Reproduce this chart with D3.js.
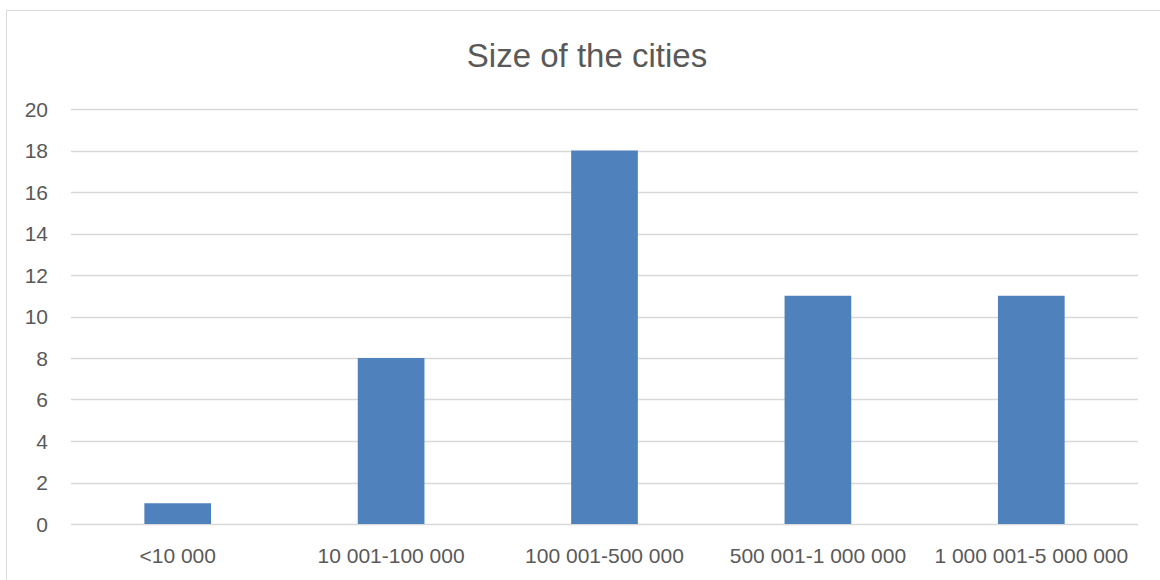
<!DOCTYPE html>
<html>
<head>
<meta charset="utf-8">
<script src="https://cdn.jsdelivr.net/npm/d3@7"></script>
<style>
  body { margin: 0; background: #fff; }
  text { font-family: "Liberation Sans", Arial, sans-serif; fill: #595959; }
</style>
</head>
<body>
<div id="main"></div>
<script>
// chart data
const categories = ["<10 000", "10 001-100 000", "100 001-500 000", "500 001-1 000 000", "1 000 001-5 000 000"];
const counts = [1, 8, 18, 11, 11];
const yTicks = [0, 2, 4, 6, 8, 10, 12, 14, 16, 18, 20];
const title = "Size of the cities";

const ctx = {width: 1160, height: 580,
  left: 71, right: 1138, top: 109, bottom: 524};

let svg = d3.select("#main").append("svg")
  .attr("width", ctx.width)
  .attr("height", ctx.height);

// frame border
svg.append("rect")
  .attr("x", 6.5).attr("y", 10.5)
  .attr("width", 1200).attr("height", 700)
  .attr("fill", "none")
  .attr("stroke", "#d9d9d9");

let x = d3.scaleBand()
  .domain(categories)
  .range([ctx.left, ctx.right])
  .paddingInner(0.6875)
  .paddingOuter(0.34375);

let y = d3.scaleLinear()
  .domain([0, 20])
  .range([ctx.bottom, ctx.top]);

// gridlines
svg.append("g").selectAll("line")
  .data(yTicks)
  .enter().append("line")
  .attr("x1", ctx.left).attr("x2", ctx.right)
  .attr("y1", d => Math.round(y(d)) + 0.5)
  .attr("y2", d => Math.round(y(d)) + 0.5)
  .attr("stroke", "#d9d9d9")
  .attr("stroke-width", 1.3);

// y tick labels
svg.append("g").selectAll("text")
  .data(yTicks)
  .enter().append("text")
  .attr("x", 48)
  .attr("y", d => y(d))
  .attr("dy", "0.36em")
  .attr("text-anchor", "end")
  .style("font-size", "21px")
  .text(d => d);

// bars
svg.append("g").selectAll("rect")
  .data(counts)
  .enter().append("rect")
  .attr("x", (d, i) => x(categories[i]))
  .attr("width", x.bandwidth())
  .attr("y", d => y(d))
  .attr("height", d => y(0) - y(d))
  .attr("fill", "#4f81bd");

// category labels
svg.append("g").selectAll("text")
  .data(categories)
  .enter().append("text")
  .attr("x", d => x(d) + x.bandwidth() / 2)
  .attr("y", 563)
  .attr("text-anchor", "middle")
  .style("font-size", "21px")
  .text(d => d);

// title
svg.append("text")
  .attr("x", 587)
  .attr("y", 67)
  .attr("text-anchor", "middle")
  .style("font-size", "33px")
  .text(title);
</script>
</body>
</html>
